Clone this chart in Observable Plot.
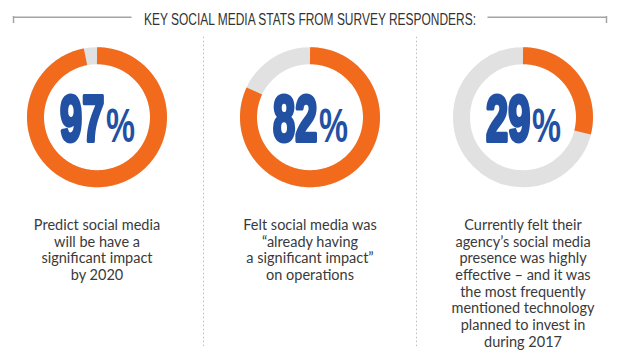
<!DOCTYPE html>
<html>
<head>
<meta charset="utf-8">
<script src="https://cdn.jsdelivr.net/npm/d3@7"></script>
<script src="https://cdn.jsdelivr.net/npm/@observablehq/plot@0.6"></script>
<style>
  html, body { margin: 0; padding: 0; background: #fff; }
  svg { display: block; }
</style>
</head>
<body>
<script>
// ---- data ----
const title = "KEY SOCIAL MEDIA STATS FROM SURVEY RESPONDERS:";
const categories = ["future", "already", "effective"];
const values = [97, 82, 29];
const valueLabels = ["97", "82", "29"];
const descriptions = [
  "Predict social media\nwill be have a\nsignificant impact\nby 2020",
  "Felt social media was\n\u201calready having\na significant impact\u201d\non operations",
  "Currently felt their\nagency\u2019s social media\npresence was highly\neffective \u2013 and it was\nthe most frequently\nmentioned technology\nplanned to invest in\nduring 2017"
];

// ---- layout / style ----
const W = 619, H = 356;
const L = {
  cy: 116.7, ringR: 61.5, ringW: 17,
  digitsX: -37, digitsTop: 95.3, digitsSize: 64.2, digitsSquash: 0.62,
  pctX: 38, pctTop: 107.5, pctSize: 48, pctSquash: 0.68,
  descTop: 217.5, descSize: 14.5, descLine: 16.7,
  titleTop: 13.3, titleSize: 16, titleWidth: 332,
  ruleY: 16.7, ruleIn: 178, ruleOut: 296.5, tickY2: 23,
  divTop: 36.7, divBottom: 348
};
const orange = "#f26a1b", grey = "#e1e1e1", blue = "#2251a3";

const rows = categories.map((cat, i) => ({cat, value: values[i], label: valueLabels[i], desc: descriptions[i]}));

// arc geometry (clockwise from 12 o'clock), in pixel-unit scales
const arcPts = rows.flatMap(r => {
  const n = Math.ceil(r.value * 3);
  return d3.range(n + 1).map(k => {
    const t = (k / n) * (r.value / 100) * 2 * Math.PI;
    return {cat: r.cat, x: L.ringR * Math.sin(t), y: L.cy - L.ringR * Math.cos(t)};
  });
});

const mid = [{cat: categories[1]}];
const headerSegs = [
  {cat: categories[1], x1: -L.ruleOut, x2: -L.ruleIn},
  {cat: categories[1], x1: L.ruleIn, x2: L.ruleOut}
];
const headerTicks = [
  {cat: categories[1], x: -L.ruleOut},
  {cat: categories[1], x: L.ruleOut}
];
const dividers = rows.slice(1);

const chart = Plot.plot({
  width: W, height: H,
  marginTop: 0, marginBottom: 0, marginLeft: -10, marginRight: -10,
  fx: {domain: categories, padding: 0, axis: null},
  x: {domain: [-106.5, 106.5], axis: null},
  y: {domain: [0, H], reverse: true, axis: null},
  marks: [
    // header
    Plot.ruleY(headerSegs, {fx: "cat", x1: "x1", x2: "x2", y: L.ruleY, stroke: "#a4a4a4", strokeWidth: 1.5}),
    Plot.ruleX(headerTicks, {fx: "cat", x: "x", y1: L.ruleY - 0.75, y2: L.tickY2, stroke: "#a4a4a4", strokeWidth: 1.5}),
    Plot.text(mid, {fx: "cat", x: 0, y: L.titleTop, text: () => title, lineAnchor: "top",
      fontFamily: "Liberation Sans, Arial, sans-serif", fontSize: L.titleSize, fill: "#333"}),
    // dividers
    Plot.ruleX(dividers, {fx: "cat", x: -106.5, y1: L.divTop, y2: L.divBottom, stroke: "#bdbdbd", strokeWidth: 1, strokeDasharray: "1.5,2.5"}),
    // rings
    Plot.dot(rows, {fx: "cat", x: 0, y: L.cy, r: L.ringR, stroke: grey, strokeWidth: L.ringW, fill: "none"}),
    Plot.line(arcPts, {fx: "cat", x: "x", y: "y", z: "cat", stroke: orange, strokeWidth: L.ringW, strokeLinecap: "butt", strokeLinejoin: "round"}),
    // numbers
    Plot.text(rows, {fx: "cat", x: L.digitsX, y: L.digitsTop, text: "label", textAnchor: "start", lineAnchor: "top",
      fontFamily: "Liberation Sans, Arial, sans-serif", fontWeight: "bold", fontSize: L.digitsSize,
      fill: blue, stroke: blue, strokeWidth: 4, strokeLinejoin: "round"}),
    Plot.text(rows, {fx: "cat", x: L.pctX, y: L.pctTop, text: () => "%", textAnchor: "end", lineAnchor: "top",
      fontFamily: "Liberation Sans, Arial, sans-serif", fontWeight: "bold", fontSize: L.pctSize,
      fill: blue}),
    // descriptions
    Plot.text(rows, {fx: "cat", x: 0, y: L.descTop, text: "desc", lineAnchor: "top",
      lineHeight: L.descLine / L.descSize, fontSize: L.descSize, fontFamily: "Lato, sans-serif", fill: "#3a3a3a"})
  ]
});
document.body.append(chart);

// horizontal condensing of text (the reference uses condensed typefaces)
function squashScale(size, k) {
  d3.select(chart).selectAll(`g[font-size="${size}"] text`).each(function() {
    let t = this.getAttribute("transform");
    if (!t || !/translate/.test(t)) {
      const x = +this.getAttribute("x") || 0, y = +this.getAttribute("y") || 0;
      this.removeAttribute("x"); this.removeAttribute("y");
      t = `translate(${x},${y})` + (t ? " " + t : "");
    }
    this.setAttribute("transform", `${t} scale(${k},1)`);
  });
}
function squashTo(size, width) {
  d3.select(chart).selectAll(`g[font-size="${size}"] text`).each(function() {
    this.setAttribute("textLength", width);
    this.setAttribute("lengthAdjust", "spacingAndGlyphs");
  });
}
squashScale(L.digitsSize, L.digitsSquash);
squashScale(L.pctSize, L.pctSquash);
squashTo(L.titleSize, L.titleWidth);
</script>
</body>
</html>
